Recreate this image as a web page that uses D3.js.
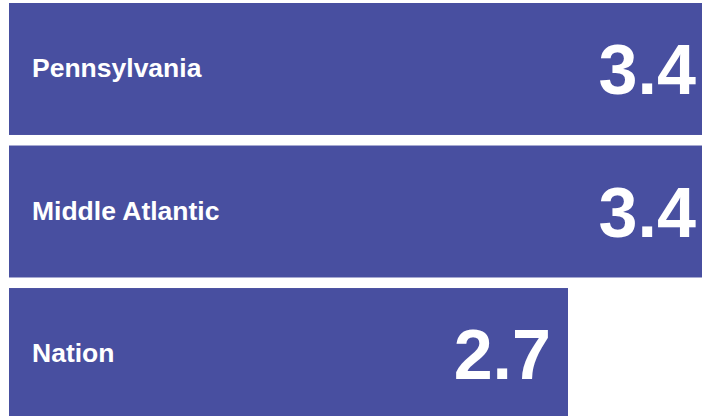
<!DOCTYPE html>
<html>
<head>
<meta charset="utf-8">
<script src="https://cdn.jsdelivr.net/npm/d3@7"></script>
<style>
  html, body { margin: 0; padding: 0; background: #fff; overflow: hidden; }
</style>
</head>
<body>
<div id="chart"></div>
<script>
const regions = ["Pennsylvania", "Middle Atlantic", "Nation"];
const rates = [3.4, 3.4, 2.7];

const width = 702, height = 416;
const barColor = "#484fa0";

const svg = d3.select("#chart").append("svg")
  .attr("width", width)
  .attr("height", height);

const data = regions.map((r, i) => ({ region: r, value: rates[i] }));

// bars run past the right edge for the larger values, like the original
const x = d3.scaleLinear().domain([0, 2.7]).range([9, 568]);
const y = d3.scaleBand().domain(regions).range([3, 420]).paddingInner(0.074).paddingOuter(0);

svg.selectAll("rect.bar")
  .data(data)
  .join("rect")
  .attr("class", "bar")
  .attr("x", x(0))
  .attr("y", d => y(d.region))
  .attr("width", d => x(d.value) - x(0))
  .attr("height", y.bandwidth())
  .attr("fill", barColor);

svg.selectAll("text.label")
  .data(data)
  .join("text")
  .attr("class", "label")
  .attr("x", 32)
  .attr("y", d => y(d.region) + y.bandwidth() / 2)
  .attr("dy", "0.32em")
  .style("font-family", "Liberation Sans, Arial, sans-serif")
  .style("font-weight", "bold")
  .style("font-size", "26.5px")
  .style("fill", "#fff")
  .text(d => d.region);

svg.selectAll("text.value")
  .data(data)
  .join("text")
  .attr("class", "value")
  .attr("x", d => x(d.value) - 17)
  .attr("y", d => y(d.region) + y.bandwidth() / 2)
  .attr("dy", "0.36em")
  .attr("text-anchor", "end")
  .style("font-family", "Liberation Sans, Arial, sans-serif")
  .style("font-weight", "bold")
  .style("font-size", "70px")
  .style("fill", "#fff")
  .text(d => d.value.toFixed(1));
</script>
</body>
</html>
